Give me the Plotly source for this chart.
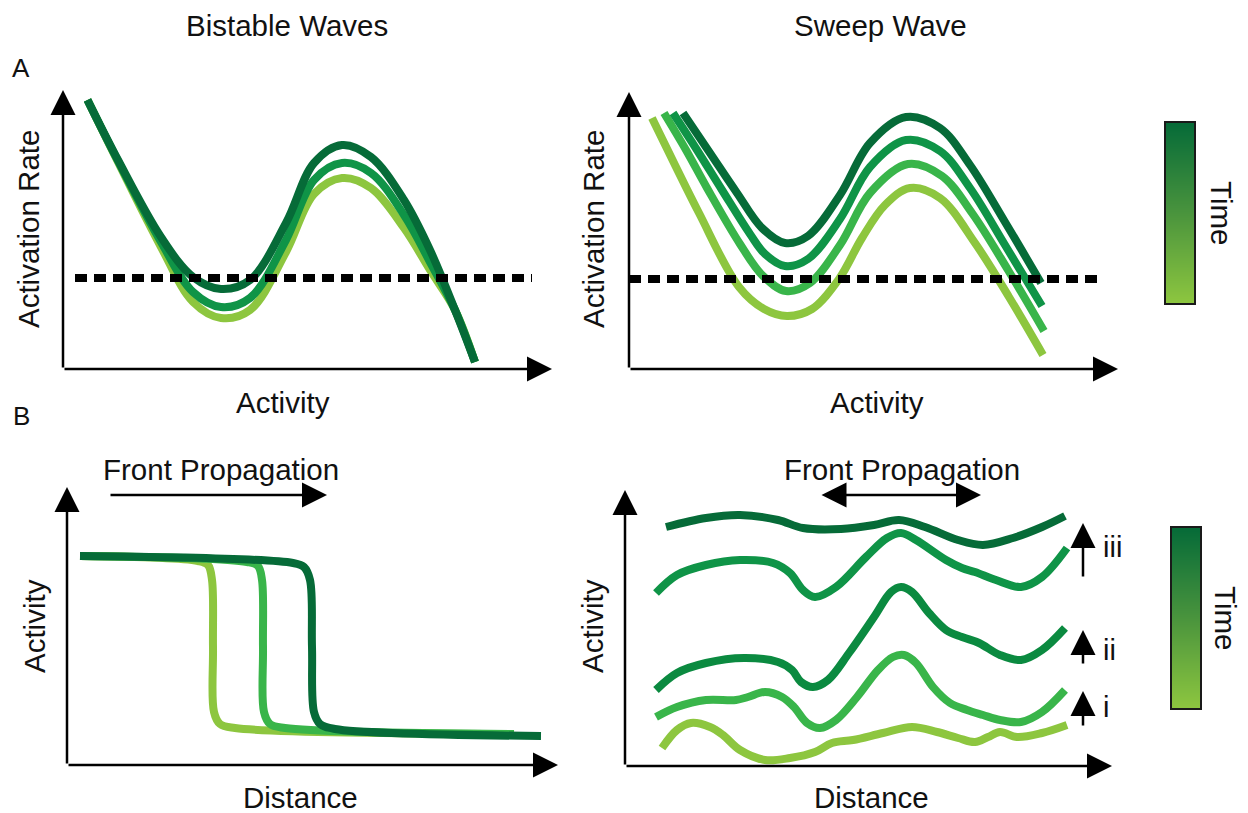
import plotly.graph_objects as go

W, H = 1248, 813
PAGE_MARGIN = 8  # browser body margin offsets the figure

# ---------------- colours ----------------
LIGHT = "#8DC63F"
MID = "#39B54A"
MIDDARK = "#0F9447"
MIDDARK2 = "#0B8A40"
DARK = "#066B38"

# ---------------- Panel A-left: Bistable Waves ----------------
a1_x = [2.45, 5.5, 9.8, 13.0, 15.8, 18.7, 22.3, 25.1, 27.9, 30.8, 34.1, 36.7, 39.2, 41.2]
a1_light = [26.9, 20.7, 12.2, 6.7, 5.1, 5.9, 11.7, 17.5, 19.1, 18.1, 14.1, 9.9, 5.9, 0.7]
a1_mid = [26.9, 20.8, 12.7, 7.7, 6.2, 7.1, 12.9, 18.9, 20.6, 19.6, 15.4, 10.7, 5.9, 0.7]
a1_dark = [26.9, 20.9, 13.2, 9.2, 8.0, 8.9, 14.6, 20.6, 22.4, 21.2, 16.9, 11.9, 5.9, 0.7]
a1_thresh_x = [1.2, 46.9]
a1_thresh_y = [9.1, 9.1]

# ---------------- Panel A-right: Sweep Wave ----------------
a2_light_x = [2.3, 4.6, 7.0, 11.0, 13.5, 15.8, 18.3, 21.0, 23.3, 25.6, 28.1, 31.1, 34.6, 38.0, 41.4]
a2_light_y = [25.1, 20.4, 15.6, 8.2, 6.0, 5.3, 6.0, 9.0, 13.1, 16.4, 18.1, 17.1, 12.6, 7.2, 1.4]
a2_mid_x = [3.5, 5.7, 7.8, 11.1, 13.4, 15.7, 18.1, 21.1, 24.1, 27.9, 31.3, 34.3, 37.9, 41.5]
a2_mid_y = [25.6, 21.9, 18.1, 12.5, 9.3, 7.8, 8.6, 12.4, 17.6, 20.5, 19.3, 15.6, 9.9, 3.8]
a2_middark_x = [4.4, 6.8, 9.3, 12.1, 13.6, 15.6, 17.9, 21.1, 24.1, 27.7, 31.1, 34.1, 37.6, 41.3]
a2_middark_y = [25.6, 21.9, 17.9, 13.5, 11.5, 10.3, 11.0, 15.0, 20.2, 22.9, 21.8, 18.1, 12.4, 6.3]
a2_dark_x = [5.4, 8.1, 10.8, 13.3, 15.6, 17.9, 21.1, 24.1, 27.7, 31.1, 34.1, 37.6, 41.2]
a2_dark_y = [25.6, 21.6, 17.6, 14.1, 12.6, 13.3, 17.4, 22.6, 25.2, 24.1, 20.4, 14.7, 8.6]
a2_thresh_x = [0.0, 47.1]
a2_thresh_y = [9.0, 9.0]

# ---------------- Panel B-left: front propagation ----------------
b1_light_x = [1.3, 13.1, 14.1, 14.5, 14.6, 14.7, 15.3, 16.8, 44.7]
b1_light_y = [20.9, 20.4, 20.0, 18.5, 11.8, 5.3, 4.1, 3.7, 3.1]
b1_mid_x = [1.3, 18.0, 19.1, 19.5, 19.6, 19.7, 20.3, 21.8, 44.7]
b1_mid_y = [20.9, 20.3, 19.9, 18.5, 11.8, 5.3, 4.1, 3.7, 3.1]
b1_dark_x = [1.3, 22.6, 23.7, 24.3, 24.5, 24.7, 25.3, 26.8, 47.4]
b1_dark_y = [20.9, 20.2, 19.8, 18.5, 11.8, 5.3, 4.1, 3.6, 2.9]

# ---------------- Panel B-right: sweep ----------------
b2_c1_x = [3.7, 5.2, 6.6, 8.5, 9.8, 11.5, 14.0, 16.5, 19.0, 20.7, 22.8, 25.8, 28.7, 31.2, 33.3, 35.0, 36.3, 37.5, 39.2, 41.7, 44.2]
b2_c1_y = [1.8, 3.6, 4.3, 3.9, 3.1, 1.6, 0.6, 0.8, 1.4, 2.3, 2.6, 3.3, 3.9, 3.4, 2.8, 2.4, 2.9, 3.4, 2.9, 3.3, 4.1]
b2_c2_x = [3.1, 5.2, 8.1, 11.1, 12.3, 14.0, 15.7, 16.9, 18.2, 19.5, 21.1, 23.2, 25.3, 26.8, 27.9, 29.1, 30.8, 32.5, 34.2, 35.8, 37.5, 39.6, 41.7, 44.0]
b2_c2_y = [4.9, 5.9, 6.6, 6.6, 6.9, 7.4, 6.9, 5.9, 4.3, 3.8, 4.6, 6.9, 9.6, 10.9, 11.1, 10.3, 7.9, 6.3, 5.6, 5.1, 4.6, 4.4, 5.4, 7.6]
b2_c3_x = [3.1, 5.2, 8.1, 11.9, 15.3, 16.7, 17.6, 18.8, 20.3, 22.4, 24.9, 26.6, 27.6, 28.7, 30.4, 32.1, 33.7, 35.4, 37.5, 39.6, 41.7, 44.0]
b2_c3_y = [7.6, 9.3, 10.3, 10.8, 10.4, 9.6, 8.4, 7.9, 8.6, 11.3, 14.9, 17.4, 17.9, 17.4, 15.3, 13.6, 12.9, 12.3, 11.1, 10.6, 11.6, 13.8]
b2_c4_x = [3.1, 5.2, 8.1, 11.5, 14.8, 16.5, 17.8, 19.0, 21.1, 24.1, 26.2, 27.6, 29.1, 32.1, 33.7, 35.0, 37.1, 39.6, 41.7, 44.2]
b2_c4_y = [17.3, 19.1, 20.1, 20.6, 20.3, 19.3, 17.6, 16.9, 17.9, 20.9, 22.8, 23.3, 22.6, 20.6, 19.8, 19.4, 18.6, 17.9, 18.9, 21.8]
b2_c5_x = [4.1, 8.1, 11.5, 15.3, 17.8, 21.6, 24.9, 27.4, 30.0, 33.3, 35.8, 38.8, 41.7, 44.0]
b2_c5_y = [23.9, 24.8, 25.1, 24.6, 23.8, 23.7, 24.1, 24.6, 23.9, 22.6, 22.1, 22.8, 23.9, 25.0]

# time colour bar levels (bottom = early, top = late)
time_levels = [[0, 0], [1, 1]]
time_pos = [0, 1]

# ---------------- layout geometry (pixels of the target picture) ----------------
def fx(px):
    return (px - PAGE_MARGIN) / W

def fy(py):
    return 1 - (py - PAGE_MARGIN) / H

panels = {
    # name: (x0px, x1px, ytop_px, ybot_px, xmax, ymax)
    "a1": (63, 552, 90, 369, 48.9, 27.9),
    "a2": (629, 1118, 92, 369, 48.9, 27.7),
    "b1": (67, 558, 487, 765, 49.1, 27.8),
    "b2": (625, 1112, 490, 766, 48.7, 27.6),
}
axis_ids = {"a1": "", "a2": "2", "b1": "3", "b2": "4"}

fig = go.Figure()

def line(x, y, color, ax, width=8, dash=None, shape="spline"):
    fig.add_trace(go.Scatter(
        x=x, y=y, mode="lines",
        line=dict(color=color, width=width, shape=shape, dash=dash, smoothing=1.0),
        xaxis="x" + axis_ids[ax], yaxis="y" + axis_ids[ax],
        hoverinfo="skip", showlegend=False))

# A-left
line(a1_x, a1_light, LIGHT, "a1")
line(a1_x, a1_mid, MIDDARK, "a1")
line(a1_x, a1_dark, DARK, "a1")
line(a1_thresh_x, a1_thresh_y, "black", "a1", width=8, dash="12px,7px", shape="linear")

# A-right
line(a2_light_x, a2_light_y, LIGHT, "a2")
line(a2_mid_x, a2_mid_y, MID, "a2")
line(a2_middark_x, a2_middark_y, MIDDARK, "a2")
line(a2_dark_x, a2_dark_y, DARK, "a2")
line(a2_thresh_x, a2_thresh_y, "black", "a2", width=8, dash="12px,7px", shape="linear")

# B-left
line(b1_light_x, b1_light_y, LIGHT, "b1")
line(b1_mid_x, b1_mid_y, MID, "b1")
line(b1_dark_x, b1_dark_y, DARK, "b1")

# B-right
line(b2_c1_x, b2_c1_y, LIGHT, "b2")
line(b2_c2_x, b2_c2_y, MID, "b2")
line(b2_c3_x, b2_c3_y, MIDDARK2, "b2")
line(b2_c4_x, b2_c4_y, MIDDARK, "b2")
line(b2_c5_x, b2_c5_y, DARK, "b2")

# colour bars
scale = [[0, LIGHT], [0.5, "#4A943D"], [1, DARK]]
for xa, ya in (("x5", "y5"), ("x6", "y6")):
    fig.add_trace(go.Heatmap(z=time_levels, x=time_pos, y=time_pos, colorscale=scale,
                             showscale=False, zsmooth="best", xaxis=xa, yaxis=ya,
                             hoverinfo="skip"))

layout = dict(width=W, height=H, margin=dict(l=0, r=0, t=0, b=0),
              paper_bgcolor="white", plot_bgcolor="rgba(0,0,0,0)", showlegend=False)

hidden = dict(showgrid=False, zeroline=False, showticklabels=False, ticks="", showline=False)
for name, (x0, x1, yt, yb, xm, ym) in panels.items():
    i = axis_ids[name]
    layout["xaxis" + i] = dict(domain=[fx(x0), fx(x1)], range=[0, xm], anchor="y" + i, **hidden)
    layout["yaxis" + i] = dict(domain=[fy(yb), fy(yt)], range=[0, ym], anchor="x" + i, **hidden)

bars = {"5": (1166, 1194, 123, 303), "6": (1172, 1200, 528, 708)}
box = dict(showgrid=False, zeroline=False, showticklabels=False, ticks="",
           showline=True, mirror=True, linecolor="#1a1a1a", linewidth=2)
for i, (x0, x1, yt, yb) in bars.items():
    layout["xaxis" + i] = dict(domain=[fx(x0), fx(x1)], range=[0, 1], anchor="y" + i, **box)
    layout["yaxis" + i] = dict(domain=[fy(yb), fy(yt)], range=[0, 1], anchor="x" + i, **box)

fig.update_layout(**layout)

ann = []
ARW = dict(showarrow=True, arrowhead=2, arrowsize=2.0, arrowwidth=2.5, arrowcolor="black",
           text="", standoff=0)

# axis arrows
for name, (x0, x1, yt, yb, xm, ym) in panels.items():
    i = axis_ids[name]
    ann.append(dict(x=xm, y=0, ax=0, ay=0, xref="x" + i, yref="y" + i,
                    axref="x" + i, ayref="y" + i, **ARW))
    ann.append(dict(x=0, y=ym, ax=0, ay=0, xref="x" + i, yref="y" + i,
                    axref="x" + i, ayref="y" + i, **ARW))

# front propagation arrows
ann.append(dict(x=26.0, y=27.0, ax=4.2, ay=27.0, xref="x3", yref="y3", axref="x3", ayref="y3", **ARW))
ann.append(dict(x=35.6, y=27.1, ax=19.5, ay=27.1, xref="x4", yref="y4", axref="x4", ayref="y4",
                arrowside="end+start", **ARW))

# i / ii / iii arrows and labels
steps = [("iii", 18.8, 24.3, 21.9), ("ii", 10.1, 13.6, 11.6), ("i", 3.9, 7.5, 5.9)]
for lab, y0, y1, ylab in steps:
    ann.append(dict(x=45.8, y=y1, ax=45.8, ay=y0, xref="x4", yref="y4", axref="x4", ayref="y4", **ARW))
    ann.append(dict(x=47.6, y=ylab, xref="x4", yref="y4", text=lab, showarrow=False,
                    xanchor="left", yanchor="middle", font=dict(size=29)))

def label(text, px, py, size=29.5, angle=0):
    ann.append(dict(x=fx(px), y=fy(py), xref="paper", yref="paper", text=text,
                    showarrow=False, xanchor="center", yanchor="middle",
                    textangle=angle, font=dict(size=size)))

label("Bistable Waves", 287, 25)
label("Sweep Wave", 880, 25)
label("A", 21, 68, size=26)
label("B", 21, 416, size=26)
label("Activation Rate", 29, 229, angle=-90)
label("Activation Rate", 594, 229, angle=-90)
label("Activity", 283, 402)
label("Activity", 877, 402)
label("Activity", 34, 626, angle=-90)
label("Activity", 592, 626, angle=-90)
label("Distance", 300, 797)
label("Distance", 871, 797)
label("Front Propagation", 221, 470)
label("Front Propagation", 902, 470)
label("Time", 1222, 213, angle=90)
label("Time", 1226, 618, angle=90)

fig.update_layout(annotations=ann,
                  font=dict(family="Liberation Sans, Arial, sans-serif", color="#111111", size=29))

fig.write_html("out.html")
